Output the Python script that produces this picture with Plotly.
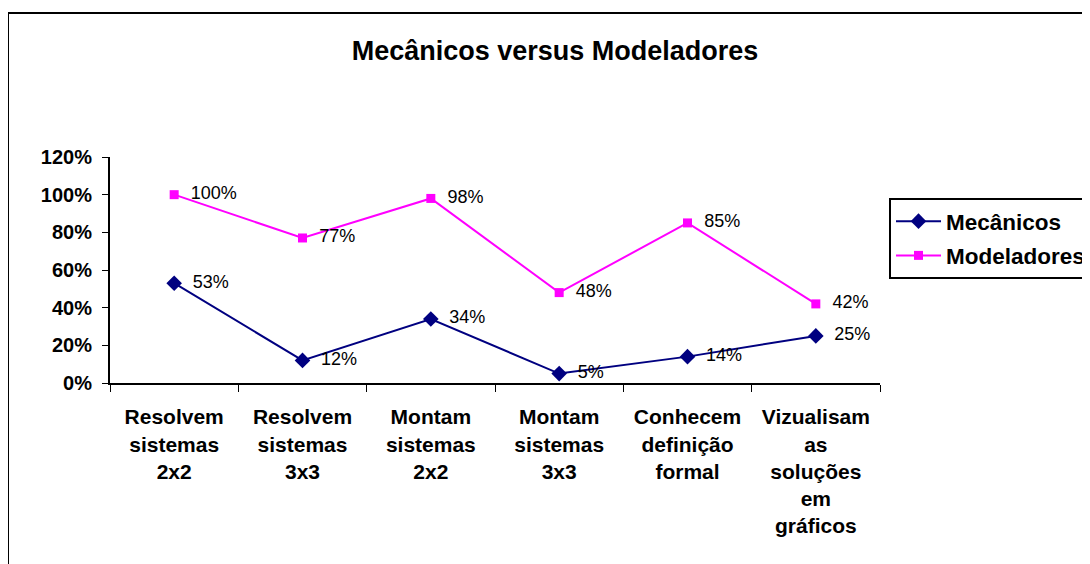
import plotly.graph_objects as go

categories = [
    "Resolvem<br>sistemas<br>2x2",
    "Resolvem<br>sistemas<br>3x3",
    "Montam<br>sistemas<br>2x2",
    "Montam<br>sistemas<br>3x3",
    "Conhecem<br>definição<br>formal",
    "Vizualisam<br>as<br>soluções<br>em<br>gráficos",
]
mecanicos = [53, 12, 34, 5, 14, 25]
modeladores = [100, 77, 98, 48, 85, 42]
y_ticks = [0, 20, 40, 60, 80, 100, 120]
y_tick_labels = [f"{v}%" for v in y_ticks]

FONT = "Liberation Sans, Arial, sans-serif"
OFF = 8  # browser body margin compensation

# plot area in reference pixels
PX0, PX1, PY0, PY1 = 110, 880, 157, 383
PW, PH = PX1 - PX0, PY1 - PY0


def px(x):
    return (x - PX0) / PW


def py(y):
    return (PY1 - y) / PH


NB = "\u00a0\u00a0"

fig = go.Figure()
fig.add_trace(go.Scatter(
    x=categories, y=mecanicos, name="Mecânicos", legendgroup="a",
    mode="lines+markers+text",
    line=dict(color="#000080", width=2),
    marker=dict(symbol="diamond", size=12, color="#000080"),
    text=[f"{NB}{v}%" for v in mecanicos], textposition="middle right",
    textfont=dict(family=FONT, size=18, color="black"),
))
fig.add_trace(go.Scatter(
    x=categories, y=modeladores, name="Modeladores", legendgroup="b",
    mode="lines+markers+text",
    line=dict(color="#FF00FF", width=2),
    marker=dict(symbol="square", size=9, color="#FF00FF"),
    text=[f"{NB}{v}%" for v in modeladores], textposition="middle right",
    textfont=dict(family=FONT, size=18, color="black"),
))

fig.update_layout(
    width=1090, height=564, autosize=False,
    margin=dict(l=PX0 - OFF, r=1090 - PX1 + OFF, t=PY0 - OFF, b=564 - PY1 + OFF,
                autoexpand=False),
    paper_bgcolor="white", plot_bgcolor="white",
    font=dict(family=FONT, color="black"),
    showlegend=True,
    title=dict(text="Mecânicos versus Modeladores", xref="container",
               x=(555 - OFF) / 1090, xanchor="center", yref="container",
               y=1 - (51 - OFF) / 564, yanchor="middle",
               font=dict(family=FONT, size=27, weight="bold", color="black")),
    legend=dict(x=px(889), xanchor="left", y=py(198), yanchor="top",
                bordercolor="black", borderwidth=2, bgcolor="white",
                font=dict(family=FONT, size=22.5, weight="bold", color="black"),
                itemwidth=45, tracegroupgap=2),
    xaxis=dict(type="category", range=[-0.5, 5.5], tickson="boundaries",
               ticks="outside", ticklen=7, tickwidth=1, tickcolor="black",
               showline=True, linecolor="black", linewidth=2, showgrid=False,
               zeroline=False, ticklabelstandoff=14,
               tickfont=dict(family=FONT, size=21, weight="bold", color="black")),
    yaxis=dict(range=[0, 120], tickvals=y_ticks, ticktext=y_tick_labels,
               ticks="outside", ticklen=6, tickwidth=1, tickcolor="black",
               showline=True, linecolor="black", linewidth=2, showgrid=False,
               zeroline=False, ticklabelstandoff=6,
               tickfont=dict(family=FONT, size=20, weight="bold", color="black")),
    shapes=[dict(type="rect", xref="paper", yref="paper",
                 x0=px(8), x1=px(1110), y0=py(600), y1=py(13),
                 line=dict(color="black", width=2), fillcolor="rgba(0,0,0,0)",
                 layer="below")],
)

fig.write_html("out.html")
